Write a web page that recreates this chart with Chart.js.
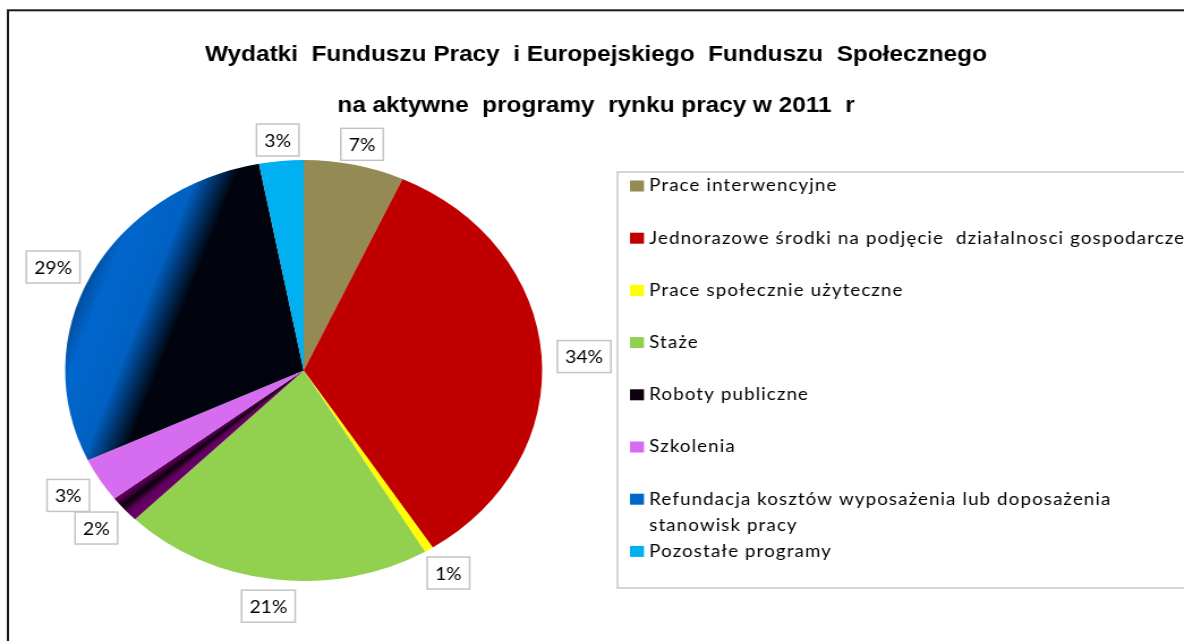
<!DOCTYPE html>
<html lang="pl">
<head>
<meta charset="utf-8">
<title>Wydatki Funduszu Pracy i EFS 2011</title>
<script src="https://cdn.jsdelivr.net/npm/chart.js@4.4.1/dist/chart.umd.min.js"></script>
<style>
  html, body { margin: 0; padding: 0; background: #fff; overflow: hidden; }
</style>
</head>
<body>
<!-- bitmap is 1045 wide, shown at 1184: the original export is stretched sideways -->
<canvas id="wykres" width="1045" height="641" style="display:block;width:1184px;height:641px"></canvas>
<script>
const titleLines = [
  'Wydatki  Funduszu Pracy  i Europejskiego  Funduszu  Społecznego',
  'na aktywne  programy  rynku pracy w 2011  r'
]
const categories = [
  'Prace interwencyjne',
  'Jednorazowe środki na podjęcie  działalnosci gospodarczej',
  'Prace społecznie użyteczne',
  'Staże',
  'Roboty publiczne',
  'Szkolenia',
  ['Refundacja kosztów wyposażenia lub doposażenia', 'stanowisk pracy'],
  'Pozostałe programy'
]
const shares = [6.8, 34.1, 0.6, 21.0, 2.1, 3.4, 29.0, 3.0]
const sliceColors = ['#948A54', '#C00000', '#FFFF00', '#92D050', '#0E000D', '#D66CF0', '#0066CC', '#00B0F0']

const el = document.getElementById('wykres')
const W = el.width
const H = el.height

function sliceAngles(i) {
  const total = shares.reduce((a, b) => a + b, 0)
  let before = 0
  for (let k = 0; k < i; k++) before += shares[k]
  const start = -Math.PI / 2 + 2 * Math.PI * before / total
  return [start, start + 2 * Math.PI * shares[i] / total]
}

function sliceFill(context) {
  const i = context.dataIndex
  const area = context.chart.chartArea
  if (i === undefined) return '#000'
  if (!area) return sliceColors[i]
  const c = context.chart.ctx
  const cx = (area.left + area.right) / 2
  const cy = (area.top + area.bottom) / 2
  const r = Math.min(area.width, area.height) / 2
  if (i === 6) {
    // blue on the outside, going black towards the middle
    const ax = 0.943, ay = 0.333
    const g = c.createLinearGradient(cx - ax * r, cy - ay * r, cx - ax * r * 0.475, cy - ay * r * 0.475)
    g.addColorStop(0, '#004F9F')
    g.addColorStop(0.15, '#0066CC')
    g.addColorStop(0.51, '#0061C2')
    g.addColorStop(0.81, '#01040F')
    g.addColorStop(1, '#01040F')
    return g
  }
  if (i === 4) {
    const [a0, a1] = sliceAngles(i)
    const span = (a1 - a0) / (2 * Math.PI)
    const g = c.createConicGradient(a0, cx, cy)
    g.addColorStop(0, '#6A0068')
    g.addColorStop(span * 0.35, '#5E005C')
    g.addColorStop(span * 0.62, '#0A000A')
    g.addColorStop(span * 0.85, '#4A0048')
    g.addColorStop(span, '#640062')
    g.addColorStop(1, '#6A0068')
    return g
  }
  return sliceColors[i]
}

const frameAndTitle = {
  id: 'frameAndTitle',
  beforeDraw(chart) {
    const c = chart.ctx
    c.save()
    c.fillStyle = '#fff'
    c.fillRect(0, 0, chart.width, chart.height)
    c.strokeStyle = '#1a1a1a'
    c.lineWidth = 2
    c.strokeRect(7, 10.3, chart.width + 20, chart.height + 20)
    c.font = 'bold 21.5px "Liberation Sans", Arial, sans-serif'
    c.textAlign = 'center'
    c.textBaseline = 'alphabetic'
    c.fillStyle = '#000'
    c.fillText(titleLines[0], 526, 61)
    c.fillText(titleLines[1], 526, 112)
    c.restore()
  }
}

const percentLabels = {
  id: 'percentLabels',
  afterDatasetsDraw(chart) {
    const c = chart.ctx
    const meta = chart.getDatasetMeta(0)
    const total = shares.reduce((a, b) => a + b, 0)
    c.save()
    c.font = '17px Lato, "Open Sans", sans-serif'
    c.textAlign = 'center'
    c.textBaseline = 'middle'
    meta.data.forEach((arc, i) => {
      const txt = Math.round(shares[i] / total * 100) + '%'
      const mid = (arc.startAngle + arc.endAngle) / 2
      const dx = Math.cos(mid), dy = Math.sin(mid)
      const w = c.measureText(txt).width + 14, h = 32
      const x = arc.x + dx * (arc.outerRadius + 14) + dx * w / 2
      const y = arc.y + dy * (arc.outerRadius + 8) + dy * h / 2 + 3
      c.fillStyle = '#fff'
      c.fillRect(x - w / 2, y - h / 2, w, h)
      c.strokeStyle = '#C4C4C4'
      c.lineWidth = 1.5
      c.strokeRect(x - w / 2, y - h / 2, w, h)
      c.fillStyle = '#000'
      c.fillText(txt, x, y + 1)
    })
    c.restore()
  }
}

const sideLegend = {
  id: 'sideLegend',
  afterDraw(chart) {
    const c = chart.ctx
    c.save()
    c.strokeStyle = '#C4C4C4'
    c.lineWidth = 1.4
    c.strokeRect(545, 172, 600, 416)
    c.font = '16.5px Lato, "Open Sans", sans-serif'
    c.letterSpacing = '1px'
    c.textBaseline = 'middle'
    chart.data.labels.forEach((lab, i) => {
      const y = 186 + i * 52.2
      c.fillStyle = sliceColors[i]
      c.fillRect(556, y - 5.5, 12.4, 11)
      c.fillStyle = '#000'
      const lines = Array.isArray(lab) ? lab : [lab]
      lines.forEach((t, k) => c.fillText(t, 573, y + k * 26))
    })
    c.restore()
  }
}

new Chart(el, {
  type: 'pie',
  data: {
    labels: categories,
    datasets: [{
      data: shares,
      backgroundColor: sliceFill,
      borderWidth: 0,
      hoverOffset: 0
    }]
  },
  options: {
    responsive: false,
    animation: false,
    devicePixelRatio: 1,
    events: [],
    layout: {
      padding: { left: 57.5, right: W - 478.5, top: 160, bottom: H - 581 }
    },
    plugins: {
      legend: { display: false },
      title: { display: false },
      tooltip: { enabled: false }
    }
  },
  plugins: [frameAndTitle, percentLabels, sideLegend]
})
</script>
</body>
</html>
